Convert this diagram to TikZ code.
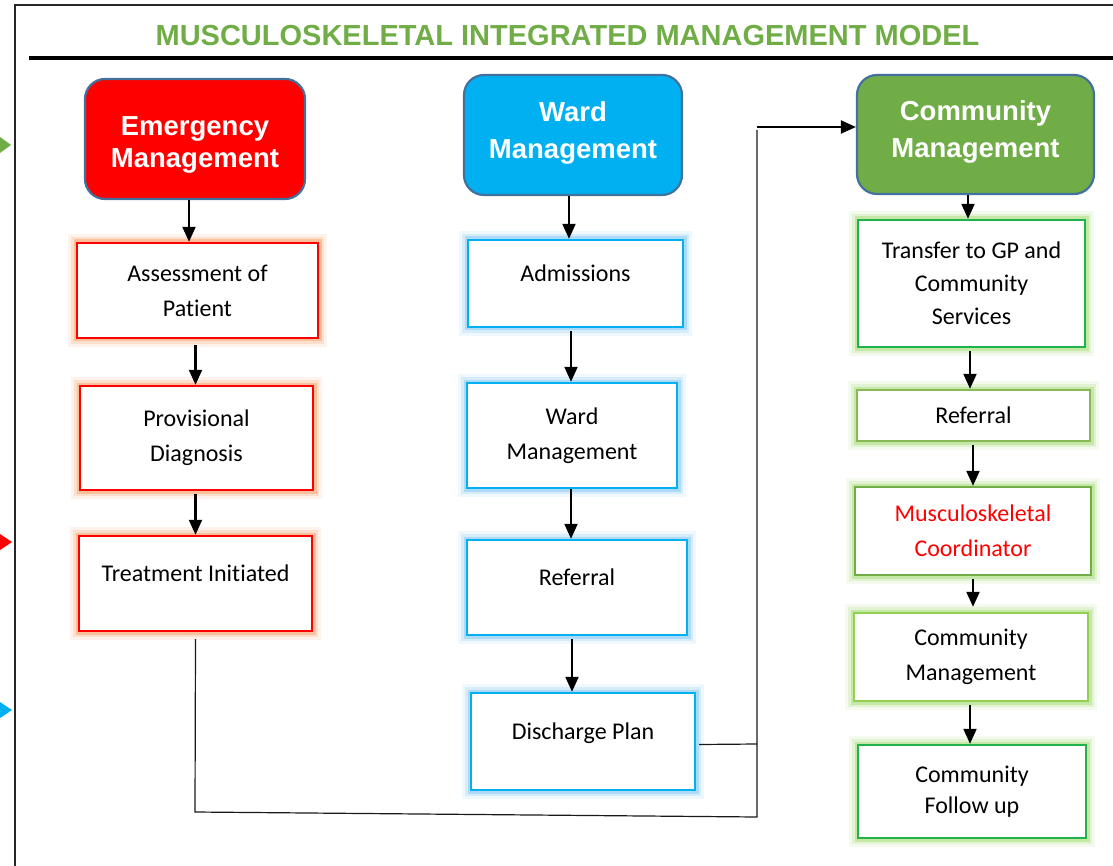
\documentclass[tikz,border=0pt]{standalone}
\usepackage{fontspec}
\setmainfont{Carlito}[Ligatures=NoCommon]
\newfontfamily\hdfont{Liberation Sans}
\usetikzlibrary{arrows.meta}
\definecolor{tgreen}{HTML}{70AD47}
\definecolor{cyanb}{HTML}{00B0F0}
\definecolor{hdrline}{HTML}{41719C}
\definecolor{brgreen}{HTML}{22B24C}
\definecolor{ltgreen}{HTML}{92D050}
\definecolor{glowred}{HTML}{F59A60}
\definecolor{glowblue}{HTML}{7CC4F2}
\definecolor{glowgreen}{HTML}{A2DA72}
\begin{document}
\begin{tikzpicture}[x=1pt,y=-1pt,
  hdr/.style={rounded corners=20pt, draw=hdrline, line width=2.2pt, fill=#1, text=white,
    font=\hdfont\bfseries\fontsize{27.5}{36}\selectfont, align=center, inner sep=0pt},
  bx/.style={draw=#1, line width=2.4pt, fill=white, align=center, inner sep=0pt,
    font=\fontsize{24}{35}\selectfont},
  glow/.style={preaction={draw=#1,line width=18pt,opacity=0.12},
               preaction={draw=#1,line width=12pt,opacity=0.22},
               preaction={draw=#1,line width=7pt,opacity=0.45}},
  oneline/.style={text height=16pt, text depth=20pt},
  arr/.style={line width=2.1pt, -{Triangle[length=15pt,width=13pt]}},
  conn/.style={line width=1.2pt, black!90}]
\useasboundingbox (0,0) rectangle (1113,866);
% outer frame and title
\draw[line width=2.6pt, black!85] (15,880) -- (15,5) -- (1125,5);
\node[text=tgreen, font=\hdfont\bfseries\fontsize{29}{29}\selectfont] (title) at (567.5,36) {MUSCULOSKELETAL INTEGRATED MANAGEMENT MODEL};
\draw[line width=4pt] (29,58) -- (1125,58);
% left side markers
\fill[tgreen] (0,137) -- (11,145) -- (0,153) -- cycle;
\fill[red] (0,534) -- (12,542) -- (0,550) -- cycle;
\fill[cyanb] (0,702) -- (12,710) -- (0,718) -- cycle;
% column 1
\node[hdr=red, minimum width=220pt, minimum height=120pt] (eh) at (195,139) {\raisebox{-12pt}[0pt][0pt]{\parbox{210pt}{\centering\baselineskip=32pt Emergency\\Management}}};
\node[bx=red, glow=glowred, minimum width=241pt, minimum height=95pt] (a1) at (197.5,290.5) {Assessment of\\Patient};
\node[bx=red, glow=glowred, minimum width=233pt, minimum height=104pt] (a2) at (196.5,438) {Provisional\\Diagnosis};
\node[bx=red, glow=glowred, oneline, minimum width=233pt, minimum height=95pt] (a3) at (195.5,583.5) {Treatment Initiated};
% column 2
\node[hdr=cyanb, minimum width=218pt, minimum height=120pt] (wh) at (573,135) {\raisebox{-4pt}[0pt][0pt]{\parbox{210pt}{\centering\baselineskip=37pt Ward\\Management}}};
\node[bx=cyanb, glow=glowblue, oneline, minimum width=215pt, minimum height=87pt] (b1) at (575.5,283.5) {Admissions};
\node[bx=cyanb, glow=glowblue, minimum width=210pt, minimum height=105pt] (b2) at (572,435.5) {Ward\\Management};
\node[bx=cyanb, glow=glowblue, oneline, minimum width=220pt, minimum height=95pt] (b3) at (577,587.5) {Referral};
\node[bx=cyanb, glow=glowblue, oneline, minimum width=224pt, minimum height=97pt] (b4) at (583,741.5) {Discharge Plan};
% column 3
\node[hdr=tgreen, minimum width=237pt, minimum height=119pt] (ch) at (975.5,134.5) {\raisebox{-4pt}[0pt][0pt]{\parbox{230pt}{\centering\baselineskip=37pt Community\\Management}}};
\node[bx=brgreen, glow=glowgreen, minimum width=227pt, minimum height=127pt, font=\fontsize{24}{33}\selectfont] (c1) at (971.5,283.5) {Transfer to GP and\\Community\\Services};
\node[bx=ltgreen!85!black!90, glow=glowgreen, minimum width=233pt, minimum height=51pt] (c2) at (973.5,415.5) {Referral};
\node[bx=tgreen, glow=glowgreen, minimum width=236pt, minimum height=88pt, text=red] (c3) at (973,531) {Musculoskeletal\\Coordinator};
\node[bx=ltgreen, glow=glowgreen, minimum width=234pt, minimum height=88pt] (c4) at (971,657) {Community\\Management};
\node[bx=brgreen, glow=glowgreen, minimum width=228pt, minimum height=93pt, font=\fontsize{24}{31}\selectfont] (c5) at (972,791.5) {Community\\Follow up};
% arrows column 1
\draw[arr] ([xshift=-6pt]eh.south) -- ([xshift=-6pt]eh.south |- a1.north);
\draw[arr, shorten <=6pt] ([xshift=-2pt]a1.south) -- ([xshift=-2pt]a1.south |- a2.north);
\draw[arr, shorten <=3pt] ([xshift=-1pt]a2.south) -- ([xshift=-1pt]a2.south |- a3.north);
% arrows column 2
\draw[arr] ([xshift=-4pt]wh.south) -- ([xshift=-4pt]wh.south |- b1.north);
\draw[arr, shorten <=3pt] ([xshift=-4.5pt]b1.south) -- ([xshift=-4.5pt]b1.south |- b2.north);
\draw[arr] ([xshift=-1pt]b2.south) -- ([xshift=-1pt]b2.south |- b3.north);
\draw[arr, shorten <=3pt] ([xshift=-5pt]b3.south) -- ([xshift=-5pt]b3.south |- b4.north);
% arrows column 3
\draw[arr] ([xshift=-7.5pt]ch.south) -- ([xshift=-7.5pt]ch.south |- c1.north);
\draw[arr, shorten <=3pt] ([xshift=-1.5pt]c1.south) -- ([xshift=-1.5pt]c1.south |- c2.north);
\draw[arr, shorten <=3pt] ([xshift=-0.5pt]c2.south) -- ([xshift=-0.5pt]c2.south |- c3.north);
\draw[arr, shorten <=3pt, shorten >=5pt] (c3.south) -- (c3.south |- c4.north);
\draw[arr, shorten <=3pt] ([xshift=-1pt]c4.south) -- ([xshift=-1pt]c4.south |- c5.north);
% connectors
\coordinate (p1) at (195,812);
\coordinate (p2) at (757,817);
\coordinate (p3) at (757,130);
\coordinate (p4) at (757,127);
\coordinate (p5) at (757,744);
\draw[conn] ([yshift=-7pt]a3.south) -- (p1) -- (p2) -- (p3);
\draw[conn] ([xshift=3pt,yshift=-3pt]b4.east) -- (p5);
\draw[arr] (p4) -- (p4 -| ch.west);
\end{tikzpicture}
\end{document}
